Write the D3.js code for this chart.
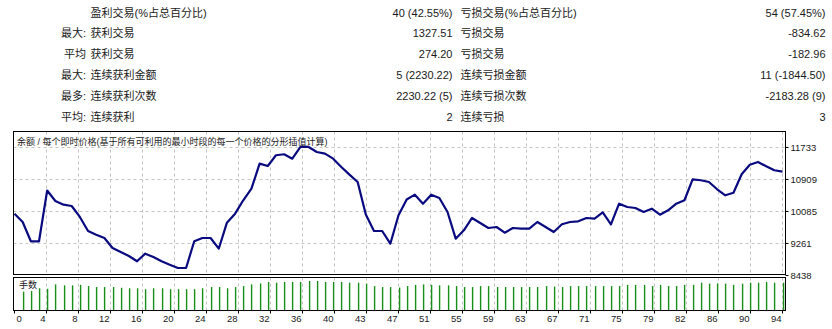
<!DOCTYPE html>
<html>
<head>
<meta charset="utf-8">
<script src="https://cdn.jsdelivr.net/npm/d3@7/dist/d3.min.js"></script>
<style>
body { margin: 0; background: #fff; }
svg text { font-family: "Liberation Sans", "Noto Sans CJK SC", sans-serif; fill: #1a1a1a; }
</style>
</head>
<body>
<div id="plot"></div>
<script>
var width = 832;
var height = 329;

// summary table
var prefixes = ["", "最大:", "平均", "最大:", "最多:", "平均:"]
var labels1 = ["盈利交易(%占总百分比)", "获利交易", "获利交易", "连续获利金额", "连续获利次数", "连续获利"]
var values1 = ["40 (42.55%)", "1327.51", "274.20", "5 (2230.22)", "2230.22 (5)", "2"]
var labels2 = ["亏损交易(%占总百分比)", "亏损交易", "亏损交易", "连续亏损金额", "连续亏损次数", "连续亏损"]
var values2 = ["54 (57.45%)", "-834.62", "-182.96", "11 (-1844.50)", "-2183.28 (9)", "3"]

// balance after each trade (trade 0 = start)
var balance = [10000, 9790, 9293, 9293, 10600, 10331, 10235, 10202, 9919, 9558,
	9463, 9378, 9120, 9017, 8914, 8778, 8974, 8889, 8778, 8690,
	8605, 8605, 9293, 9378, 9378, 9102, 9772, 10004, 10349, 10647,
	11291, 11232, 11507, 11533, 11420, 11721, 11721, 11592, 11549, 11420,
	11206, 11008, 10820, 9985, 9558, 9558, 9231, 9962, 10369, 10493,
	10261, 10493, 10408, 10047, 9360, 9576, 9893, 9764, 9635, 9661,
	9514, 9635, 9617, 9617, 9790, 9661, 9532, 9731, 9790, 9808,
	9893, 9875, 10035, 9726, 10261, 10176, 10150, 10047, 10132, 9978,
	10091, 10261, 10349, 10889, 10864, 10820, 10632, 10477, 10544, 11018,
	11265, 11335, 11224, 11121, 11088]

// lot size of trades 1..94
var lots = [0.076, 0.079, 0.090, 0.088, 0.106, 0.102, 0.102, 0.104, 0.099, 0.095,
	0.095, 0.095, 0.092, 0.090, 0.090, 0.086, 0.090, 0.090, 0.086, 0.086,
	0.086, 0.086, 0.090, 0.095, 0.095, 0.090, 0.095, 0.099, 0.106, 0.110,
	0.116, 0.113, 0.116, 0.116, 0.116, 0.120, 0.120, 0.116, 0.116, 0.116,
	0.113, 0.113, 0.109, 0.099, 0.095, 0.095, 0.093, 0.099, 0.104, 0.106,
	0.104, 0.102, 0.102, 0.099, 0.095, 0.095, 0.099, 0.099, 0.095, 0.095,
	0.095, 0.095, 0.095, 0.095, 0.099, 0.097, 0.095, 0.099, 0.099, 0.099,
	0.099, 0.099, 0.099, 0.099, 0.104, 0.104, 0.104, 0.099, 0.104, 0.099,
	0.099, 0.104, 0.104, 0.113, 0.109, 0.110, 0.109, 0.104, 0.109, 0.113,
	0.113, 0.116, 0.113, 0.113]

var yTicks = [8438, 9261, 10085, 10909, 11733]
var xTickLabels = [0, 4, 8, 12, 16, 20, 24, 28, 32, 36, 40, 43, 47, 51, 55, 59, 63, 67, 71, 75, 79, 82, 86, 90, 94]

var chartTitle = "余额 / 每个即时价格(基于所有可利用的最小时段的每一个价格的分形插值计算)"
var lotsTitle = "手数"

var left = 13.5, right = 785.5
var balTop = 131.5, balBottom = 274.5
var lotTop = 277.5, lotBottom = 310.5

function setupSVG(h, w){
	var s = d3.select('#plot').append('svg')
		.attr('height', h)
		.attr('width', w)
	return s
}
var svg = setupSVG(height, width)

// ---- table ----
var rowY = d3.scaleLinear().domain([0, 5]).range([16.5, 120.5])
var t = svg.append('g').style('font-size', '11px')
for (var i = 0; i < labels1.length; i++){
	var yy = rowY(i)
	t.append('text').attr('x', 86).attr('y', yy).attr('text-anchor', 'end').text(prefixes[i])
	t.append('text').attr('x', 90.5).attr('y', yy).text(labels1[i])
	t.append('text').attr('x', 452.5).attr('y', yy).attr('text-anchor', 'end').text(values1[i])
	t.append('text').attr('x', 460.5).attr('y', yy).text(labels2[i])
	t.append('text').attr('x', 825.5).attr('y', yy).attr('text-anchor', 'end').text(values2[i])
}

// ---- scales ----
var x = d3.scaleLinear().domain([0, balance.length - 1]).range([14.5, 782.5])
var y = d3.scaleLinear().domain([8438, 11733]).range([274.5, 146.5])
var gridX = d3.scaleLinear().domain([0, xTickLabels.length - 1]).range([14, 782])
var lotY = d3.scaleLinear().domain([0, 0.12]).range([310, 281])

// ---- grid ----
var grid = svg.append('g')
	.attr('stroke', '#c4c4c4')
	.attr('stroke-dasharray', '3,3')
	.attr('stroke-width', 1)
for (var k = 1; k < xTickLabels.length; k++){
	var gx = Math.round(gridX(k)) + 0.5
	grid.append('line').attr('x1', gx).attr('x2', gx).attr('y1', balTop).attr('y2', balBottom)
	grid.append('line').attr('x1', gx).attr('x2', gx).attr('y1', lotTop).attr('y2', lotBottom)
}
yTicks.forEach(function(v){
	if (v == yTicks[0]) return
	var gy = Math.round(y(v)) + 0.5
	grid.append('line').attr('x1', left).attr('x2', right).attr('y1', gy).attr('y2', gy)
})

// ---- lot bars ----
var bars = svg.append('g')
lots.forEach(function(l, i){
	var bx = Math.round(x(i + 1)) + 0.5
	bars.append('line').attr('x1', bx + 1).attr('x2', bx + 1).attr('y1', lotY(l)).attr('y2', lotY(0))
		.attr('stroke', '#c6ecc6').attr('stroke-width', 1)
	bars.append('line').attr('x1', bx).attr('x2', bx).attr('y1', lotY(l)).attr('y2', lotY(0))
		.attr('stroke', '#1b8c1b').attr('stroke-width', 1.2)
})

// ---- balance line ----
var line = d3.line()
	.x(function(d, i){ return x(i) })
	.y(function(d){ return y(d) })
svg.append('path')
	.datum(balance)
	.attr('d', line)
	.attr('fill', 'none')
	.attr('stroke', '#0a0a80')
	.attr('stroke-width', 2.2)
	.attr('stroke-linejoin', 'round')

// ---- frames ----
svg.append('rect').attr('x', left).attr('y', balTop).attr('width', right - left).attr('height', balBottom - balTop)
	.attr('fill', 'none').attr('stroke', '#000')
svg.append('rect').attr('x', left).attr('y', lotTop).attr('width', right - left).attr('height', lotBottom - lotTop)
	.attr('fill', 'none').attr('stroke', '#000')

svg.append('text').attr('x', 17).attr('y', 144.5).style('font-size', '9px').text(chartTitle)
svg.append('text').attr('x', 19).attr('y', 288).style('font-size', '9px').text(lotsTitle)

// ---- right axis ----
var ax = svg.append('g').style('font-size', '9.5px')
yTicks.forEach(function(v){
	var gy = Math.round(y(v)) + 0.5
	ax.append('line').attr('x1', right).attr('x2', right + 3).attr('y1', gy).attr('y2', gy).attr('stroke', '#000')
	ax.append('text').attr('x', 790.5).attr('y', gy + 3.5).text(v)
})

// ---- bottom axis ----
var bx = svg.append('g').style('font-size', '9.5px')
xTickLabels.forEach(function(lab, k){
	var tx = Math.round(gridX(k)) + 0.5
	bx.append('line').attr('x1', tx).attr('x2', tx).attr('y1', lotBottom).attr('y2', lotBottom + 3).attr('stroke', '#000')
	if (k == 0){
		bx.append('text').attr('x', tx + 2).attr('y', 322).text(lab)
	} else {
		bx.append('text').attr('x', tx - 1).attr('y', 322).attr('text-anchor', 'end').text(lab)
	}
})
</script>
</body>
</html>
